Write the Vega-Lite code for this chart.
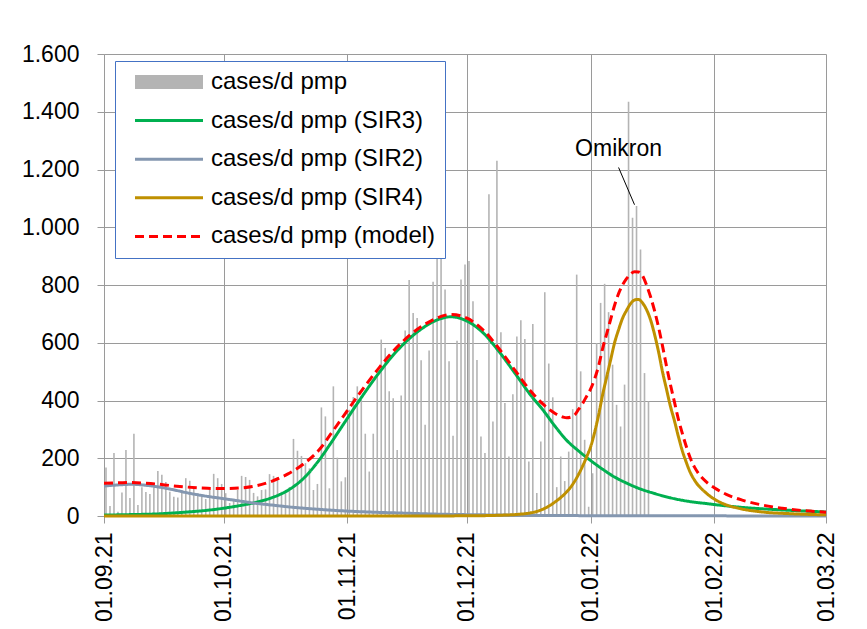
{
  "$schema": "https://vega.github.io/schema/vega-lite/v6.json",
  "width": 722,
  "height": 462,
  "autosize": {"type": "none"},
  "padding": {"left": 104, "top": 54, "right": 41, "bottom": 113},
  "background": "white",
  "config": {
    "view": {"stroke": null},
    "font": "Liberation Sans",
    "locale": {"number": {"decimal": ",", "thousands": ".", "grouping": [3], "currency": ["", " €"]}},
    "axis": {
      "labelFont": "Liberation Sans", "labelFontSize": 23, "labelColor": "#000000",
      "domainColor": "#9a9a9a", "tickColor": "#9a9a9a", "gridColor": "#9a9a9a",
      "gridWidth": 1, "domainWidth": 1, "tickWidth": 1, "tickSize": 7, "title": null
    },
    "legend": {
      "orient": "none", "legendX": 11, "legendY": 7, "title": null,
      "symbolType": "stroke", "symbolSize": 4624,
      "labelFont": "Liberation Sans", "labelFontSize": 24, "labelColor": "#000000", "labelLimit": 400,
      "strokeColor": "#4472c4", "fillColor": "#ffffff",
      "padding": 9, "rowPadding": 14.6, "clipHeight": 24, "symbolOffset": 4, "labelOffset": 1
    }
  },
  "datasets": {
    "bars": [
      {"date":"2021-09-01","value":168},{"date":"2021-09-02","value":35},{"date":"2021-09-03","value":218},{"date":"2021-09-04","value":15},{"date":"2021-09-05","value":81},{"date":"2021-09-06","value":229},{"date":"2021-09-07","value":62},{"date":"2021-09-08","value":285},{"date":"2021-09-09","value":38},{"date":"2021-09-10","value":100},
      {"date":"2021-09-11","value":83},{"date":"2021-09-12","value":76},{"date":"2021-09-13","value":100},{"date":"2021-09-14","value":156},{"date":"2021-09-15","value":143},{"date":"2021-09-16","value":118},{"date":"2021-09-17","value":84},{"date":"2021-09-18","value":67},{"date":"2021-09-19","value":64},{"date":"2021-09-20","value":90},
      {"date":"2021-09-21","value":131},{"date":"2021-09-22","value":122},{"date":"2021-09-23","value":95},{"date":"2021-09-24","value":79},{"date":"2021-09-25","value":67},{"date":"2021-09-26","value":59},{"date":"2021-09-27","value":90},{"date":"2021-09-28","value":146},{"date":"2021-09-29","value":131},{"date":"2021-09-30","value":111},
      {"date":"2021-10-01","value":79},{"date":"2021-10-02","value":45},{"date":"2021-10-03","value":60},{"date":"2021-10-04","value":90},{"date":"2021-10-05","value":139},{"date":"2021-10-06","value":135},{"date":"2021-10-07","value":125},{"date":"2021-10-08","value":80},{"date":"2021-10-09","value":68},{"date":"2021-10-10","value":90},
      {"date":"2021-10-11","value":92},{"date":"2021-10-12","value":145},{"date":"2021-10-13","value":139},{"date":"2021-10-14","value":135},{"date":"2021-10-15","value":84},{"date":"2021-10-16","value":79},{"date":"2021-10-17","value":100},{"date":"2021-10-18","value":267},{"date":"2021-10-19","value":226},{"date":"2021-10-20","value":208},
      {"date":"2021-10-21","value":183},{"date":"2021-10-22","value":165},{"date":"2021-10-23","value":90},{"date":"2021-10-24","value":111},{"date":"2021-10-25","value":376},{"date":"2021-10-26","value":345},{"date":"2021-10-27","value":96},{"date":"2021-10-28","value":449},{"date":"2021-10-29","value":202},{"date":"2021-10-30","value":120},
      {"date":"2021-10-31","value":134},{"date":"2021-11-01","value":368},{"date":"2021-11-02","value":412},{"date":"2021-11-03","value":449},{"date":"2021-11-04","value":403},{"date":"2021-11-05","value":285},{"date":"2021-11-06","value":154},{"date":"2021-11-07","value":285},{"date":"2021-11-08","value":493},{"date":"2021-11-09","value":611},
      {"date":"2021-11-10","value":582},{"date":"2021-11-11","value":432},{"date":"2021-11-12","value":408},{"date":"2021-11-13","value":229},{"date":"2021-11-14","value":417},{"date":"2021-11-15","value":642},{"date":"2021-11-16","value":817},{"date":"2021-11-17","value":703},{"date":"2021-11-18","value":686},{"date":"2021-11-19","value":539},
      {"date":"2021-11-20","value":316},{"date":"2021-11-21","value":573},{"date":"2021-11-22","value":811},{"date":"2021-11-23","value":891},{"date":"2021-11-24","value":891},{"date":"2021-11-25","value":784},{"date":"2021-11-26","value":536},{"date":"2021-11-27","value":278},{"date":"2021-11-28","value":607},{"date":"2021-11-29","value":819},
      {"date":"2021-11-30","value":871},{"date":"2021-12-01","value":883},{"date":"2021-12-02","value":744},{"date":"2021-12-03","value":540},{"date":"2021-12-04","value":275},{"date":"2021-12-05","value":218},{"date":"2021-12-06","value":1114},{"date":"2021-12-07","value":327},{"date":"2021-12-08","value":1230},{"date":"2021-12-09","value":636},
      {"date":"2021-12-10","value":391},{"date":"2021-12-11","value":206},{"date":"2021-12-12","value":422},{"date":"2021-12-13","value":622},{"date":"2021-12-14","value":678},{"date":"2021-12-15","value":613},{"date":"2021-12-16","value":189},{"date":"2021-12-17","value":665},{"date":"2021-12-18","value":80},{"date":"2021-12-19","value":258},
      {"date":"2021-12-20","value":775},{"date":"2021-12-21","value":528},{"date":"2021-12-22","value":411},{"date":"2021-12-23","value":100},{"date":"2021-12-24","value":206},{"date":"2021-12-25","value":121},{"date":"2021-12-26","value":223},{"date":"2021-12-27","value":370},{"date":"2021-12-28","value":836},{"date":"2021-12-29","value":501},
      {"date":"2021-12-30","value":264},{"date":"2021-12-31","value":32},{"date":"2022-01-01","value":148},{"date":"2022-01-02","value":599},{"date":"2022-01-03","value":738},{"date":"2022-01-04","value":804},{"date":"2022-01-05","value":706},{"date":"2022-01-06","value":524},{"date":"2022-01-07","value":385},{"date":"2022-01-08","value":310},
      {"date":"2022-01-09","value":455},{"date":"2022-01-10","value":1435},{"date":"2022-01-11","value":1033},{"date":"2022-01-12","value":1074},{"date":"2022-01-13","value":923},{"date":"2022-01-14","value":495},{"date":"2022-01-15","value":397}
    ],
    "curves": [
      {"date":"2021-09-01","series":"cases/d pmp (SIR3)","value":3},{"date":"2021-09-08","series":"cases/d pmp (SIR3)","value":5},{"date":"2021-09-14","series":"cases/d pmp (SIR3)","value":7},{"date":"2021-09-22","series":"cases/d pmp (SIR3)","value":14},{"date":"2021-09-27","series":"cases/d pmp (SIR3)","value":20},{"date":"2021-10-01","series":"cases/d pmp (SIR3)","value":27},{"date":"2021-10-05","series":"cases/d pmp (SIR3)","value":36},{"date":"2021-10-09","series":"cases/d pmp (SIR3)","value":47},{"date":"2021-10-13","series":"cases/d pmp (SIR3)","value":63},{"date":"2021-10-17","series":"cases/d pmp (SIR3)","value":88},{"date":"2021-10-21","series":"cases/d pmp (SIR3)","value":130},{"date":"2021-10-25","series":"cases/d pmp (SIR3)","value":195},{"date":"2021-10-28","series":"cases/d pmp (SIR3)","value":255},{"date":"2021-11-01","series":"cases/d pmp (SIR3)","value":338},{"date":"2021-11-05","series":"cases/d pmp (SIR3)","value":420},{"date":"2021-11-09","series":"cases/d pmp (SIR3)","value":497},{"date":"2021-11-13","series":"cases/d pmp (SIR3)","value":565},{"date":"2021-11-17","series":"cases/d pmp (SIR3)","value":620},{"date":"2021-11-20","series":"cases/d pmp (SIR3)","value":652},{"date":"2021-11-23","series":"cases/d pmp (SIR3)","value":676},{"date":"2021-11-27","series":"cases/d pmp (SIR3)","value":690},{"date":"2021-12-01","series":"cases/d pmp (SIR3)","value":675},{"date":"2021-12-05","series":"cases/d pmp (SIR3)","value":635},{"date":"2021-12-09","series":"cases/d pmp (SIR3)","value":570},{"date":"2021-12-13","series":"cases/d pmp (SIR3)","value":495},{"date":"2021-12-17","series":"cases/d pmp (SIR3)","value":418},{"date":"2021-12-20","series":"cases/d pmp (SIR3)","value":368},{"date":"2021-12-23","series":"cases/d pmp (SIR3)","value":312},{"date":"2021-12-26","series":"cases/d pmp (SIR3)","value":262},{"date":"2021-12-29","series":"cases/d pmp (SIR3)","value":225},{"date":"2022-01-01","series":"cases/d pmp (SIR3)","value":192},{"date":"2022-01-04","series":"cases/d pmp (SIR3)","value":162},{"date":"2022-01-07","series":"cases/d pmp (SIR3)","value":135},{"date":"2022-01-10","series":"cases/d pmp (SIR3)","value":114},{"date":"2022-01-13","series":"cases/d pmp (SIR3)","value":96},{"date":"2022-01-17","series":"cases/d pmp (SIR3)","value":78},{"date":"2022-01-21","series":"cases/d pmp (SIR3)","value":63},{"date":"2022-01-25","series":"cases/d pmp (SIR3)","value":52},{"date":"2022-01-30","series":"cases/d pmp (SIR3)","value":43},{"date":"2022-02-07","series":"cases/d pmp (SIR3)","value":31},{"date":"2022-02-18","series":"cases/d pmp (SIR3)","value":21},{"date":"2022-03-01","series":"cases/d pmp (SIR3)","value":14},
      {"date":"2021-09-01","series":"cases/d pmp (SIR2)","value":104},{"date":"2021-09-05","series":"cases/d pmp (SIR2)","value":108},{"date":"2021-09-08","series":"cases/d pmp (SIR2)","value":110},{"date":"2021-09-11","series":"cases/d pmp (SIR2)","value":107},{"date":"2021-09-14","series":"cases/d pmp (SIR2)","value":102},{"date":"2021-09-18","series":"cases/d pmp (SIR2)","value":92},{"date":"2021-09-22","series":"cases/d pmp (SIR2)","value":80},{"date":"2021-09-26","series":"cases/d pmp (SIR2)","value":70},{"date":"2021-10-01","series":"cases/d pmp (SIR2)","value":60},{"date":"2021-10-05","series":"cases/d pmp (SIR2)","value":52},{"date":"2021-10-09","series":"cases/d pmp (SIR2)","value":44},{"date":"2021-10-13","series":"cases/d pmp (SIR2)","value":38},{"date":"2021-10-17","series":"cases/d pmp (SIR2)","value":32},{"date":"2021-10-21","series":"cases/d pmp (SIR2)","value":27},{"date":"2021-10-26","series":"cases/d pmp (SIR2)","value":22},{"date":"2021-11-01","series":"cases/d pmp (SIR2)","value":17},{"date":"2021-11-08","series":"cases/d pmp (SIR2)","value":13},{"date":"2021-11-15","series":"cases/d pmp (SIR2)","value":10},{"date":"2021-11-25","series":"cases/d pmp (SIR2)","value":6},{"date":"2021-12-05","series":"cases/d pmp (SIR2)","value":4},{"date":"2021-12-20","series":"cases/d pmp (SIR2)","value":2},{"date":"2022-01-04","series":"cases/d pmp (SIR2)","value":1},{"date":"2022-01-29","series":"cases/d pmp (SIR2)","value":0.5},{"date":"2022-03-01","series":"cases/d pmp (SIR2)","value":0.3},
      {"date":"2021-09-01","series":"cases/d pmp (SIR4)","value":0},{"date":"2021-10-01","series":"cases/d pmp (SIR4)","value":0},{"date":"2021-10-31","series":"cases/d pmp (SIR4)","value":0},{"date":"2021-11-30","series":"cases/d pmp (SIR4)","value":0.5},{"date":"2021-12-10","series":"cases/d pmp (SIR4)","value":3},{"date":"2021-12-14","series":"cases/d pmp (SIR4)","value":6},{"date":"2021-12-17","series":"cases/d pmp (SIR4)","value":11},{"date":"2021-12-19","series":"cases/d pmp (SIR4)","value":18},{"date":"2021-12-21","series":"cases/d pmp (SIR4)","value":30},{"date":"2021-12-23","series":"cases/d pmp (SIR4)","value":48},{"date":"2021-12-25","series":"cases/d pmp (SIR4)","value":70},{"date":"2021-12-27","series":"cases/d pmp (SIR4)","value":100},{"date":"2021-12-29","series":"cases/d pmp (SIR4)","value":145},{"date":"2021-12-31","series":"cases/d pmp (SIR4)","value":205},{"date":"2022-01-01","series":"cases/d pmp (SIR4)","value":240},{"date":"2022-01-02","series":"cases/d pmp (SIR4)","value":290},{"date":"2022-01-03","series":"cases/d pmp (SIR4)","value":350},{"date":"2022-01-04","series":"cases/d pmp (SIR4)","value":420},{"date":"2022-01-05","series":"cases/d pmp (SIR4)","value":480},{"date":"2022-01-06","series":"cases/d pmp (SIR4)","value":540},{"date":"2022-01-07","series":"cases/d pmp (SIR4)","value":600},{"date":"2022-01-08","series":"cases/d pmp (SIR4)","value":645},{"date":"2022-01-09","series":"cases/d pmp (SIR4)","value":685},{"date":"2022-01-10","series":"cases/d pmp (SIR4)","value":712},{"date":"2022-01-11","series":"cases/d pmp (SIR4)","value":735},{"date":"2022-01-12","series":"cases/d pmp (SIR4)","value":748},{"date":"2022-01-13","series":"cases/d pmp (SIR4)","value":750},{"date":"2022-01-14","series":"cases/d pmp (SIR4)","value":738},{"date":"2022-01-15","series":"cases/d pmp (SIR4)","value":715},{"date":"2022-01-16","series":"cases/d pmp (SIR4)","value":680},{"date":"2022-01-17","series":"cases/d pmp (SIR4)","value":630},{"date":"2022-01-18","series":"cases/d pmp (SIR4)","value":570},{"date":"2022-01-19","series":"cases/d pmp (SIR4)","value":500},{"date":"2022-01-20","series":"cases/d pmp (SIR4)","value":440},{"date":"2022-01-21","series":"cases/d pmp (SIR4)","value":380},{"date":"2022-01-22","series":"cases/d pmp (SIR4)","value":330},{"date":"2022-01-23","series":"cases/d pmp (SIR4)","value":275},{"date":"2022-01-24","series":"cases/d pmp (SIR4)","value":225},{"date":"2022-01-25","series":"cases/d pmp (SIR4)","value":185},{"date":"2022-01-26","series":"cases/d pmp (SIR4)","value":150},{"date":"2022-01-27","series":"cases/d pmp (SIR4)","value":125},{"date":"2022-01-30","series":"cases/d pmp (SIR4)","value":79},{"date":"2022-02-03","series":"cases/d pmp (SIR4)","value":44},{"date":"2022-02-07","series":"cases/d pmp (SIR4)","value":27},{"date":"2022-02-13","series":"cases/d pmp (SIR4)","value":14},{"date":"2022-02-20","series":"cases/d pmp (SIR4)","value":8},{"date":"2022-03-01","series":"cases/d pmp (SIR4)","value":4},
      {"date":"2021-09-01","series":"cases/d pmp (model)","value":113},{"date":"2021-09-05","series":"cases/d pmp (model)","value":115},{"date":"2021-09-08","series":"cases/d pmp (model)","value":116},{"date":"2021-09-11","series":"cases/d pmp (model)","value":114},{"date":"2021-09-14","series":"cases/d pmp (model)","value":111},{"date":"2021-09-18","series":"cases/d pmp (model)","value":105},{"date":"2021-09-22","series":"cases/d pmp (model)","value":100},{"date":"2021-09-27","series":"cases/d pmp (model)","value":96},{"date":"2021-10-01","series":"cases/d pmp (model)","value":95},{"date":"2021-10-05","series":"cases/d pmp (model)","value":97},{"date":"2021-10-09","series":"cases/d pmp (model)","value":104},{"date":"2021-10-13","series":"cases/d pmp (model)","value":120},{"date":"2021-10-17","series":"cases/d pmp (model)","value":145},{"date":"2021-10-21","series":"cases/d pmp (model)","value":180},{"date":"2021-10-25","series":"cases/d pmp (model)","value":230},{"date":"2021-10-28","series":"cases/d pmp (model)","value":287},{"date":"2021-11-01","series":"cases/d pmp (model)","value":365},{"date":"2021-11-05","series":"cases/d pmp (model)","value":442},{"date":"2021-11-09","series":"cases/d pmp (model)","value":514},{"date":"2021-11-13","series":"cases/d pmp (model)","value":578},{"date":"2021-11-17","series":"cases/d pmp (model)","value":630},{"date":"2021-11-20","series":"cases/d pmp (model)","value":660},{"date":"2021-11-23","series":"cases/d pmp (model)","value":683},{"date":"2021-11-27","series":"cases/d pmp (model)","value":698},{"date":"2021-12-01","series":"cases/d pmp (model)","value":685},{"date":"2021-12-05","series":"cases/d pmp (model)","value":645},{"date":"2021-12-09","series":"cases/d pmp (model)","value":580},{"date":"2021-12-13","series":"cases/d pmp (model)","value":505},{"date":"2021-12-17","series":"cases/d pmp (model)","value":432},{"date":"2021-12-20","series":"cases/d pmp (model)","value":388},{"date":"2021-12-23","series":"cases/d pmp (model)","value":356},{"date":"2021-12-25","series":"cases/d pmp (model)","value":343},{"date":"2021-12-26","series":"cases/d pmp (model)","value":340},{"date":"2021-12-27","series":"cases/d pmp (model)","value":342},{"date":"2021-12-28","series":"cases/d pmp (model)","value":350},{"date":"2021-12-29","series":"cases/d pmp (model)","value":370},{"date":"2021-12-30","series":"cases/d pmp (model)","value":390},{"date":"2021-12-31","series":"cases/d pmp (model)","value":415},{"date":"2022-01-01","series":"cases/d pmp (model)","value":440},{"date":"2022-01-02","series":"cases/d pmp (model)","value":475},{"date":"2022-01-03","series":"cases/d pmp (model)","value":520},{"date":"2022-01-04","series":"cases/d pmp (model)","value":580},{"date":"2022-01-05","series":"cases/d pmp (model)","value":630},{"date":"2022-01-06","series":"cases/d pmp (model)","value":680},{"date":"2022-01-07","series":"cases/d pmp (model)","value":730},{"date":"2022-01-08","series":"cases/d pmp (model)","value":770},{"date":"2022-01-09","series":"cases/d pmp (model)","value":800},{"date":"2022-01-10","series":"cases/d pmp (model)","value":822},{"date":"2022-01-11","series":"cases/d pmp (model)","value":838},{"date":"2022-01-12","series":"cases/d pmp (model)","value":846},{"date":"2022-01-13","series":"cases/d pmp (model)","value":845},{"date":"2022-01-14","series":"cases/d pmp (model)","value":832},{"date":"2022-01-15","series":"cases/d pmp (model)","value":800},{"date":"2022-01-16","series":"cases/d pmp (model)","value":760},{"date":"2022-01-17","series":"cases/d pmp (model)","value":712},{"date":"2022-01-18","series":"cases/d pmp (model)","value":655},{"date":"2022-01-19","series":"cases/d pmp (model)","value":590},{"date":"2022-01-20","series":"cases/d pmp (model)","value":520},{"date":"2022-01-21","series":"cases/d pmp (model)","value":455},{"date":"2022-01-22","series":"cases/d pmp (model)","value":395},{"date":"2022-01-23","series":"cases/d pmp (model)","value":335},{"date":"2022-01-24","series":"cases/d pmp (model)","value":285},{"date":"2022-01-25","series":"cases/d pmp (model)","value":240},{"date":"2022-01-26","series":"cases/d pmp (model)","value":200},{"date":"2022-01-27","series":"cases/d pmp (model)","value":170},{"date":"2022-01-28","series":"cases/d pmp (model)","value":148},{"date":"2022-01-30","series":"cases/d pmp (model)","value":118},{"date":"2022-02-01","series":"cases/d pmp (model)","value":98},{"date":"2022-02-04","series":"cases/d pmp (model)","value":75},{"date":"2022-02-08","series":"cases/d pmp (model)","value":55},{"date":"2022-02-13","series":"cases/d pmp (model)","value":38},{"date":"2022-02-18","series":"cases/d pmp (model)","value":27},{"date":"2022-02-23","series":"cases/d pmp (model)","value":19},{"date":"2022-03-01","series":"cases/d pmp (model)","value":13}
    ],
    "pointer": [{"date": "2022-01-08", "value": 1207, "date2": "2022-01-12", "value2": 1078}],
    "label": [{"date": "2022-01-08", "value": 1270, "text": "Omikron"}]
  },
  "layer": [
    {
      "data": {"name": "bars"},
      "mark": {"type": "bar", "size": 1.6, "color": "#b4b4b4"},
      "encoding": {
        "x": {
          "field": "date", "type": "temporal", "timeUnit": "yearmonthdate", "bandPosition": 0.5,
          "scale": {"domain": [{"year": 2021, "month": 9, "date": 1}, {"year": 2022, "month": 3, "date": 1}]},
          "axis": {
            "values": [{"year": 2021, "month": 9, "date": 1}, {"year": 2021, "month": 10, "date": 1}, {"year": 2021, "month": 11, "date": 1}, {"year": 2021, "month": 12, "date": 1}, {"year": 2022, "month": 1, "date": 1}, {"year": 2022, "month": 2, "date": 1}, {"year": 2022, "month": 3, "date": 1}],
            "format": "%d.%m.%y", "labelAngle": -90, "grid": true, "labelPadding": 9
          }
        },
        "y": {
          "field": "value", "type": "quantitative",
          "scale": {"domain": [0, 1600]},
          "axis": {"values": [0, 200, 400, 600, 800, 1000, 1200, 1400, 1600], "format": ",d", "grid": true, "labelPadding": 18}
        }
      }
    },
    {
      "data": {"name": "curves"},
      "mark": {"type": "line", "interpolate": "monotone"},
      "encoding": {
        "x": {"field": "date", "type": "temporal"},
        "y": {"field": "value", "type": "quantitative"},
        "color": {
          "field": "series", "type": "nominal",
          "scale": {"domain": ["cases/d pmp", "cases/d pmp (SIR3)", "cases/d pmp (SIR2)", "cases/d pmp (SIR4)", "cases/d pmp (model)"], "range": ["#b4b4b4", "#00b050", "#8497b0", "#bf9000", "#ff0000"]}
        },
        "strokeDash": {
          "field": "series", "type": "nominal",
          "scale": {"domain": ["cases/d pmp", "cases/d pmp (SIR3)", "cases/d pmp (SIR2)", "cases/d pmp (SIR4)", "cases/d pmp (model)"], "range": [[1, 0], [1, 0], [1, 0], [1, 0], [9, 5]]}
        },
        "strokeWidth": {
          "field": "series", "type": "nominal",
          "scale": {"type": "ordinal", "domain": ["cases/d pmp", "cases/d pmp (SIR3)", "cases/d pmp (SIR2)", "cases/d pmp (SIR4)", "cases/d pmp (model)"], "range": [14, 3, 3, 3, 3]}
        }
      }
    },
    {
      "data": {"name": "pointer"},
      "mark": {"type": "rule", "color": "#000000", "strokeWidth": 1},
      "encoding": {
        "x": {"field": "date", "type": "temporal"},
        "y": {"field": "value", "type": "quantitative"},
        "x2": {"field": "date2"},
        "y2": {"field": "value2"}
      }
    },
    {
      "data": {"name": "label"},
      "mark": {"type": "text", "font": "Liberation Sans", "fontSize": 23, "color": "#000000", "align": "center", "baseline": "middle"},
      "encoding": {
        "x": {"field": "date", "type": "temporal"},
        "y": {"field": "value", "type": "quantitative"},
        "text": {"field": "text"}
      }
    }
  ]
}
